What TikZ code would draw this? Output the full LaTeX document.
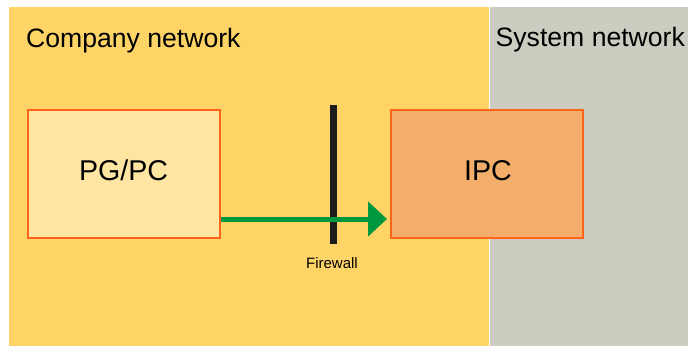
\documentclass[tikz,border=0pt]{standalone}
\usepackage{fontspec}
\setmainfont{Liberation Sans}
\usetikzlibrary{arrows.meta}
\definecolor{zoneyellow}{HTML}{FED466}
\definecolor{zonegray}{HTML}{CCCCC0}
\definecolor{pcfill}{HTML}{FEE6A2}
\definecolor{ipcfill}{HTML}{F4AE6B}
\definecolor{boxedge}{HTML}{FF6419}
\definecolor{flowgreen}{HTML}{00983F}
\definecolor{wallblack}{HTML}{1C1C1C}
\tikzset{
  zonelabel/.style={anchor=base west, inner sep=0pt, font=\fontsize{26.6}{30}\selectfont},
  devicebox/.style={draw=boxedge, line width=2.5pt, minimum width=192pt, minimum height=128pt, inner sep=0pt},
  devicelabel/.style={anchor=base, inner sep=0pt, font=\fontsize{28.6}{32}\selectfont},
  wall/.style={draw=wallblack, line width=7pt},
  flow/.style={draw=flowgreen, line width=5pt, -{Triangle[length=19pt,width=34pt]}},
  smalllabel/.style={anchor=base, inner sep=0pt, font=\fontsize{15}{18}\selectfont}
}
\begin{document}
\begin{tikzpicture}[x=1pt, y=-1pt]
  \useasboundingbox (0,0) rectangle (688,346);
  % network zones
  \fill[zoneyellow] (9,7) rectangle (488.8,346);
  \fill[zonegray] (490,7) rectangle (688,346);
  \node[zonelabel] (company) at (26,47) {Company network};
  \node[zonelabel] (system) at (495.5,46.5) {System network};
  % devices
  \node[devicebox, fill=pcfill] (pc) at (124,174) {};
  \node[devicebox, fill=ipcfill] (ipc) at (487,174) {};
  \node[devicelabel] (pclabel) at (123.5,180) {PG/PC};
  \node[devicelabel] (ipclabel) at (488,180) {IPC};
  % firewall
  \coordinate (walltop) at (333,105);
  \coordinate (wallbottom) at (333,244);
  \draw[wall] (walltop) -- (wallbottom);
  \node[smalllabel] (fwlabel) at (332,268) {Firewall};
  % connection through the firewall
  \coordinate (flowstart) at (221,219);
  \coordinate (flowend) at (387,219);
  \draw[flow] (flowstart) -- (flowend);
\end{tikzpicture}
\end{document}
